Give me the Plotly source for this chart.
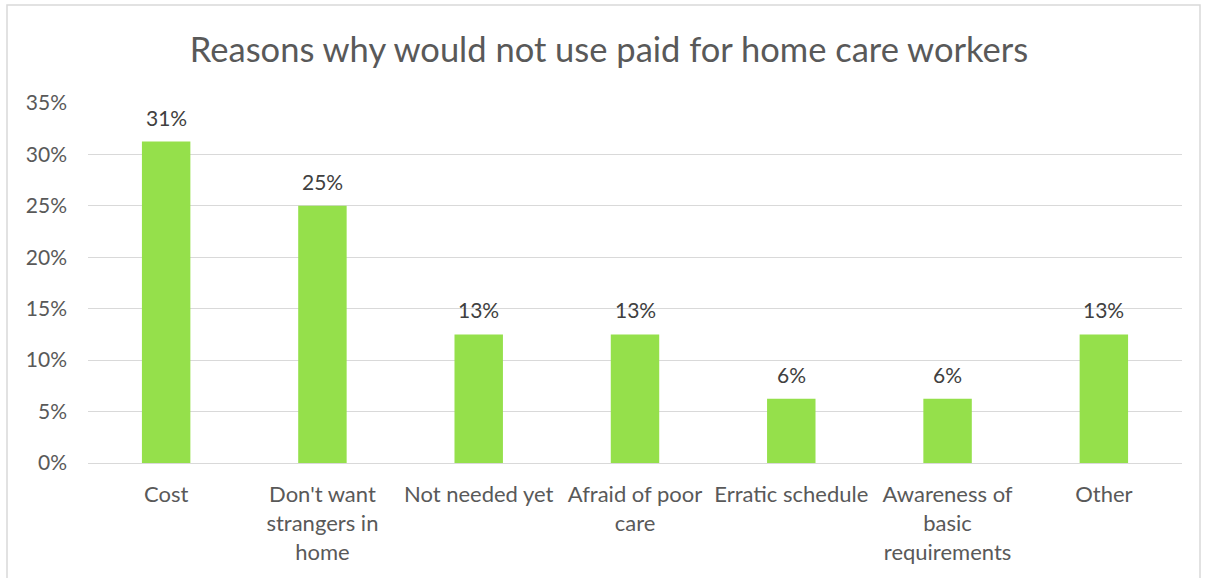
import plotly.graph_objects as go

categories = ["Cost", "Don't want<br>strangers in<br>home", "Not needed yet", "Afraid of poor<br>care",
              "Erratic schedule", "Awareness of<br>basic<br>requirements", "Other"]
values = [0.3125, 0.25, 0.125, 0.125, 0.0625, 0.0625, 0.125]
labels = [f"{int(v * 100 + 0.5)}%" for v in values]
y_ticks = [0, 0.05, 0.10, 0.15, 0.20, 0.25, 0.30, 0.35]
y_tick_text = ["0%", "5%", "10%", "15%", "20%", "25%", "30%", "35%"]

FONT = "Lato"
W, H = 1205, 578
L, R, T, B = 88, 23, 103, 115
pw, ph = W - L - R, H - T - B

fig = go.Figure(go.Bar(
    x=categories, y=values,
    marker=dict(color="#95E04B", line=dict(width=0)),
    hoverinfo="skip",
))

annotations = [
    dict(x=c, y=v, text=t, xref="x", yref="y", showarrow=False,
         yanchor="bottom", xanchor="center", yshift=10,
         font=dict(family=FONT, size=21, color="#404040"))
    for c, v, t in zip(categories, values, labels)
]

fig.update_layout(
    width=W, height=H,
    margin=dict(l=L, r=R, t=T, b=B),
    paper_bgcolor="white", plot_bgcolor="white",
    bargap=0.69,
    title=dict(text="Reasons why would not use paid for home care workers",
               x=(609 - L) / pw, xref="paper", xanchor="center",
               y=1 - 50 / H, yanchor="middle",
               font=dict(family=FONT, size=34.5, color="#595959")),
    showlegend=False,
    font=dict(family=FONT, color="#595959"),
    xaxis=dict(showgrid=False, showline=True, linecolor="#D9D9D9", linewidth=1,
               ticks="", ticklabelstandoff=12,
               tickfont=dict(family=FONT, size=22, color="#595959")),
    yaxis=dict(range=[0, 0.35], tickvals=y_ticks, ticktext=y_tick_text,
               showgrid=True, gridcolor="#D9D9D9", gridwidth=1, zeroline=False,
               ticks="", ticklen=0, ticklabelstandoff=20,
               tickfont=dict(family=FONT, size=21, color="#595959")),
    annotations=annotations,
    shapes=[dict(type="rect", xref="paper", yref="paper",
                 x0=(7 - L) / pw, x1=(1200 - L) / pw,
                 y0=-0.5, y1=(H - B - 5) / ph,
                 line=dict(color="#D9D9D9", width=1.5), layer="below")],
)

fig.write_html("out.html", config={"displayModeBar": False},
               post_script="document.body.style.margin='0';document.body.style.overflow='hidden';")
